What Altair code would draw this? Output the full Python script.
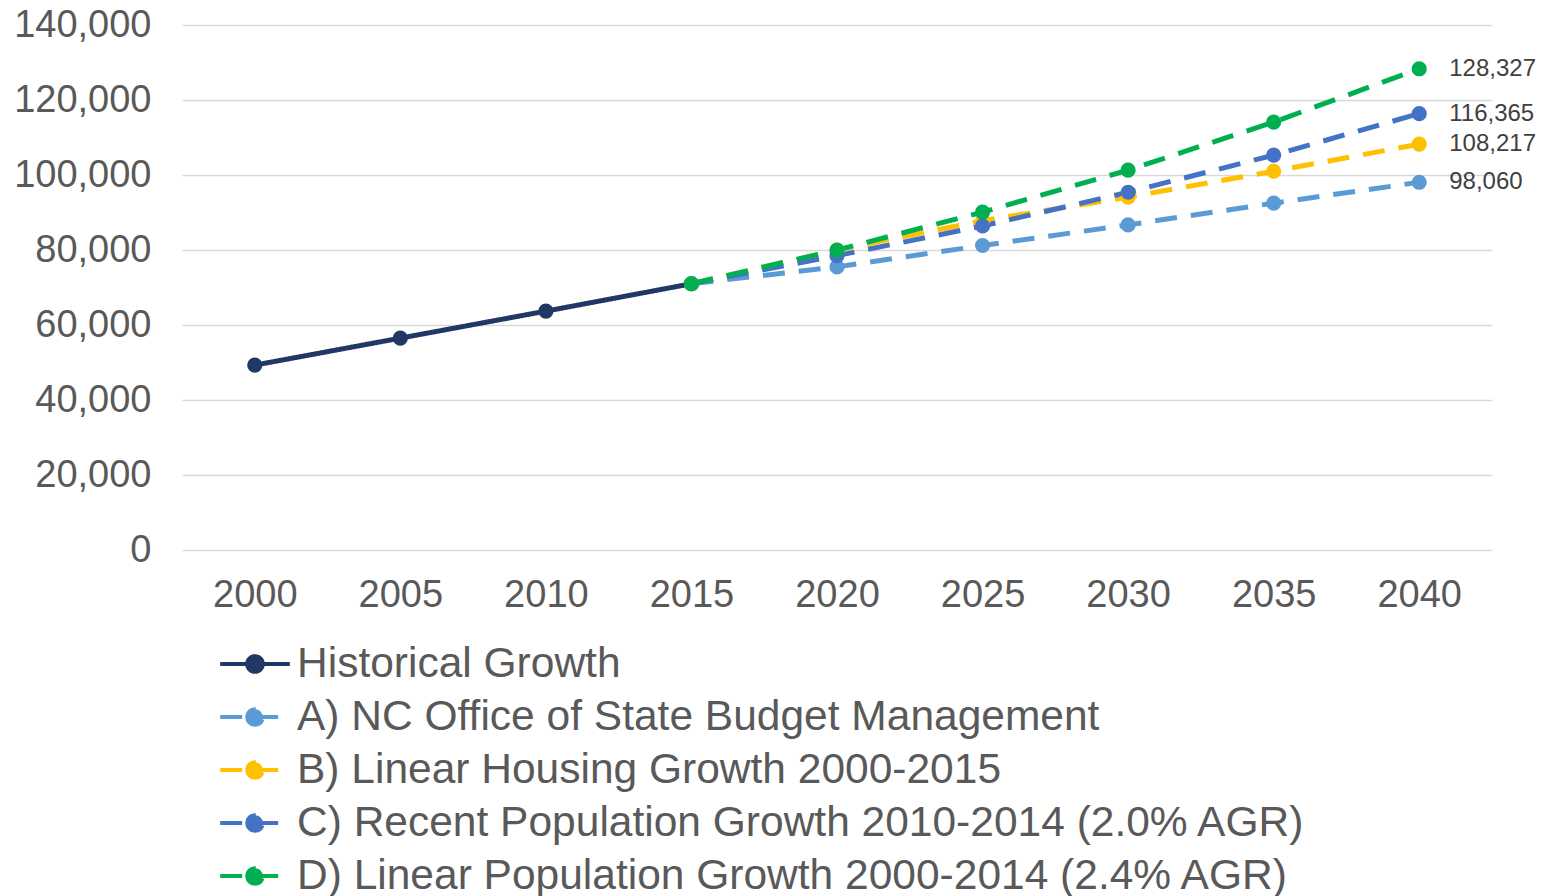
import altair as alt
import pandas as pd

series_names = [
    "Historical Growth",
    "A) NC Office of State Budget Management",
    "B) Linear Housing Growth 2000-2015",
    "C) Recent Population Growth 2010-2014  (2.0% AGR)",
    "D) Linear Population Growth 2000-2014 (2.4% AGR)",
]
hist_years = [2000, 2005, 2010, 2015]
historical = [49300, 56500, 63700, 71000]
proj_years = [2015, 2020, 2025, 2030, 2035, 2040]
proj_a = [71000, 75500, 81200, 86700, 92500, 98060]
proj_b = [71000, 80000, 87800, 94100, 101000, 108217]
proj_c = [71000, 78500, 86400, 95400, 105300, 116365]
proj_d = [71000, 80000, 90100, 101300, 114100, 128327]
y_ticks = [0, 20000, 40000, 60000, 80000, 100000, 120000, 140000]

colors = ["#1f3864", "#5b9bd5", "#ffc000", "#4472c4", "#00b050"]
dashes = [[1, 0], [22, 14], [22, 14], [22, 14], [22, 14]]

rows = []
for y, v in zip(hist_years, historical):
    rows.append({"year": y, "value": v, "series": series_names[0]})
for name, vals in zip(series_names[1:], [proj_a, proj_b, proj_c, proj_d]):
    for y, v in zip(proj_years, vals):
        rows.append({"year": y, "value": v, "series": name})
df = pd.DataFrame(rows)

color_scale = alt.Scale(domain=series_names, range=colors)
dash_scale = alt.Scale(domain=series_names, range=dashes)

x_enc = alt.X(
    "year:O",
    title=None,
    axis=alt.Axis(labelAngle=0, domain=False, ticks=False, grid=False,
                  labelFontSize=38, labelColor="#595959", labelPadding=26),
)
y_enc = alt.Y(
    "value:Q",
    title=None,
    scale=alt.Scale(domain=[0, 140000]),
    axis=alt.Axis(values=y_ticks, format=",.0f", domain=False, ticks=False, grid=True,
                  gridColor="#d9d9d9", gridWidth=1.5,
                  labelFontSize=38, labelColor="#595959", labelPadding=31),
)

base = alt.Chart(df).encode(
    x=x_enc,
    y=y_enc,
    color=alt.Color("series:N", scale=color_scale, sort=series_names,
                    legend=alt.Legend(title=None)),
)

lines = base.mark_line(strokeWidth=5).encode(
    strokeDash=alt.StrokeDash("series:N", scale=dash_scale, sort=series_names,
                              legend=alt.Legend(title=None))
)
points = base.mark_point(filled=True, size=230, opacity=1)

labels = alt.Chart(df).transform_filter(
    (alt.datum.year == 2040)
).mark_text(align="left", baseline="middle", dx=30, fontSize=24, color="#404040").encode(
    x=x_enc,
    y=y_enc,
    text=alt.Text("value:Q", format=",.0f"),
)

chart = alt.layer(lines, points, labels).properties(
    width=1310,
    height=525,
    autosize=alt.AutoSizeParams(type="none"),
    padding={"left": 174, "top": 17, "right": 65, "bottom": 346},
).configure(
    font="Liberation Sans",
).configure_view(
    stroke=None,
).configure_legend(
    orient="none",
    legendX=42,
    legendY=608,
    labelFontSize=42.5,
    labelColor="#595959",
    labelLimit=0,
    symbolType="M-1.2,0H1.2M-0.27,0A0.27,0.27 0 1,0 0.27,0A0.27,0.27 0 1,0 -0.27,0Z",
    symbolSize=3364,
    symbolStrokeWidth=4,
    rowPadding=0,
    labelOffset=11,
)

chart.save("out.html", embed_options={"renderer": "svg", "actions": False})
